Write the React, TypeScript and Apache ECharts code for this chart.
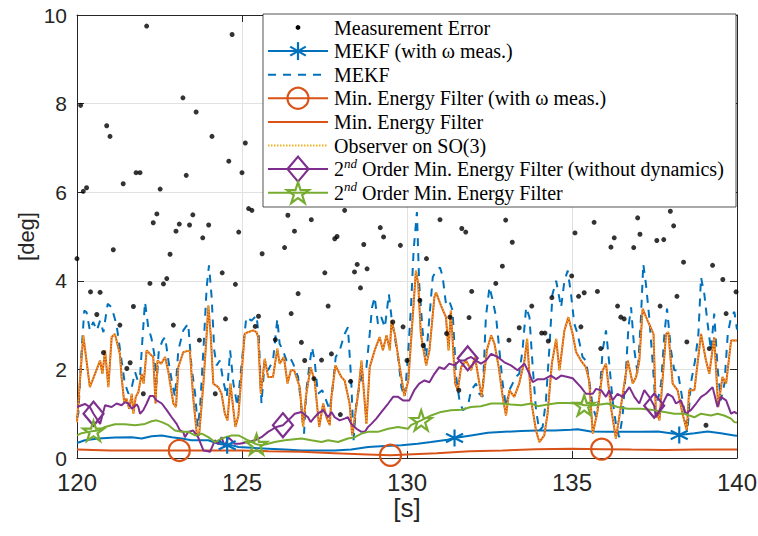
import React, { useEffect, useRef } from 'react';
import * as echarts from 'echarts';

// ---------- axes ----------
const X_MIN = 120;
const X_MAX = 140;
const X_INTERVAL = 5;
const Y_MIN = 0;
const Y_MAX = 10;
const Y_INTERVAL = 2;

// ---------- data: [time s, error deg] ----------
const measurementError: [number, number][] = [
  [120.0, 4.5], [120.11, 7.96], [120.19, 6.02], [120.29, 6.1], [120.41, 3.75], [120.6, 3.24], [120.7, 3.74],
  [120.8, 2.38], [120.9, 7.5], [121.0, 7.26], [121.1, 4.7], [121.3, 3.0], [121.4, 6.19], [121.51, 2.02],
  [121.61, 2.15], [121.71, 3.42], [121.79, 6.44], [121.91, 6.44], [122.01, 1.45], [122.11, 9.75], [122.21, 3.94],
  [122.31, 5.31], [122.42, 5.51], [122.52, 6.07], [122.62, 3.93], [122.72, 4.05], [122.82, 4.6], [122.92, 3.0],
  [123.0, 5.12], [123.1, 5.28], [123.21, 8.13], [123.31, 6.38], [123.41, 5.26], [123.51, 5.49], [123.61, 7.81],
  [123.71, 2.66], [123.81, 4.97], [123.99, 5.26], [124.09, 7.26], [124.19, 1.45], [124.4, 4.18], [124.5, 3.14],
  [124.6, 6.7], [124.7, 9.56], [124.8, 3.92], [124.9, 5.1],
  [125.0, 6.44], [125.1, 7.11], [125.2, 5.63], [125.3, 5.59], [125.4, 2.97], [125.5, 3.2], [125.61, 4.61],
  [126.01, 2.67], [126.29, 4.75], [126.39, 5.48], [126.49, 3.26], [126.59, 5.12], [126.7, 3.71], [126.8, 2.61],
  [126.9, 2.2], [127.1, 5.38], [127.18, 1.79], [127.41, 2.21], [127.51, 4.18], [127.61, 3.43], [127.71, 2.35],
  [127.81, 4.95], [127.88, 5.0], [127.98, 0.98], [128.11, 5.59], [128.29, 1.73], [128.41, 4.2], [128.49, 4.37],
  [128.59, 3.84], [128.69, 4.82], [128.79, 4.27], [129.19, 5.2], [129.29, 4.99], [129.57, 3.07], [129.8, 4.8],
  [129.88, 2.96], [130.0, 2.2],
  [130.39, 3.56], [130.49, 2.54], [130.59, 4.5], [131.0, 5.38], [131.2, 2.81], [131.3, 3.18], [131.57, 1.53],
  [131.66, 5.18], [131.78, 5.1], [131.88, 3.17], [131.96, 3.76], [132.69, 3.94], [132.89, 4.33], [132.99, 5.37],
  [133.09, 2.66], [133.19, 4.87], [133.4, 2.94], [133.78, 3.43], [134.08, 2.82], [134.18, 2.82], [134.28, 2.64],
  [134.39, 3.62], [134.99, 4.11], [135.09, 5.08], [135.2, 3.65], [135.27, 2.96],
  [135.37, 3.73], [135.67, 5.32], [135.77, 3.76], [135.87, 2.47], [136.18, 4.76], [136.28, 4.97], [136.38, 3.43],
  [136.48, 3.18], [136.58, 3.14], [136.87, 4.75], [136.99, 5.42], [137.06, 5.05], [137.57, 4.91], [137.67, 3.43],
  [137.78, 4.93], [137.98, 5.57], [138.08, 5.24], [138.18, 3.65], [138.38, 4.42], [138.48, 2.62], [139.06, 0.74],
  [139.16, 2.47], [139.26, 4.35], [139.57, 4.03], [139.67, 3.26], [139.97, 3.75],
];

const mekfWithOmega: [number, number][] = [
  [120.0, 0.34], [120.24, 0.4], [120.65, 0.44], [121.15, 0.46], [121.66, 0.47], [121.96, 0.44], [122.26, 0.49],
  [122.57, 0.51], [122.87, 0.47], [123.17, 0.44], [123.47, 0.4], [123.67, 0.4], [123.98, 0.4], [124.28, 0.32],
  [124.55, 0.29], [124.68, 0.29], [124.89, 0.25], [125.29, 0.23], [125.79, 0.21], [126.3, 0.19], [126.8, 0.17],
  [127.3, 0.17], [127.81, 0.17], [128.31, 0.19], [128.82, 0.25], [129.33, 0.27], [129.83, 0.29], [130.32, 0.32],
  [130.73, 0.36], [131.23, 0.41], [131.44, 0.45], [131.94, 0.51], [132.45, 0.57], [132.95, 0.59], [133.46, 0.61],
  [133.96, 0.62], [134.47, 0.62], [134.97, 0.64], [135.17, 0.65], [135.57, 0.6], [136.08, 0.59], [136.58, 0.59],
  [137.09, 0.59], [137.6, 0.6], [138.1, 0.55], [138.25, 0.52], [138.71, 0.56], [139.11, 0.6], [139.51, 0.56],
  [139.92, 0.51], [140.0, 0.5],
];
const mekfWithOmegaMarkers = [124.55, 131.44, 138.25];

const mekf: [number, number][] = [
  [120.0, 0.9], [120.04, 1.0], [120.14, 2.43], [120.22, 3.33], [120.29, 3.29], [120.39, 2.88], [120.49, 3.07],
  [120.6, 2.88], [120.7, 3.1], [120.8, 2.84], [120.93, 3.48], [121.05, 3.4], [121.2, 3.0], [121.35, 2.2],
  [121.45, 1.68], [121.56, 1.45], [121.66, 1.6], [121.76, 1.94], [121.84, 1.75], [121.91, 1.83], [121.98, 2.65],
  [122.06, 3.52], [122.16, 2.95], [122.26, 2.69], [122.34, 2.35], [122.41, 1.68], [122.48, 2.43], [122.59, 2.65],
  [122.67, 2.73], [122.77, 2.2], [122.87, 1.75], [122.97, 1.38], [123.07, 2.43], [123.22, 2.88], [123.37, 3.03],
  [123.47, 2.05], [123.58, 1.45], [123.66, 0.7], [123.73, 1.15], [123.83, 2.43], [123.93, 3.86], [124.0, 4.35],
  [124.08, 3.63], [124.16, 2.43], [124.23, 2.09], [124.33, 2.2], [124.43, 1.75], [124.54, 1.38], [124.64, 2.43],
  [124.74, 1.68], [124.86, 1.17], [125.03, 2.43], [125.13, 3.18], [125.29, 3.1], [125.44, 3.22], [125.51, 2.73],
  [125.59, 1.23], [125.69, 2.2], [125.79, 1.98], [125.94, 2.2], [126.07, 3.14], [126.14, 2.58], [126.24, 2.43],
  [126.35, 2.2], [126.45, 2.28], [126.55, 2.13], [126.7, 1.83], [126.8, 1.15], [126.88, 0.55], [126.95, 1.53],
  [127.05, 2.13], [127.12, 2.5], [127.2, 2.2], [127.3, 1.45], [127.43, 1.53], [127.51, 1.38], [127.66, 1.08],
  [127.76, 1.68], [127.84, 2.28], [127.96, 2.43], [128.11, 2.8], [128.21, 2.95], [128.31, 1.75], [128.38, 0.4],
  [128.47, 1.3], [128.62, 1.83], [128.77, 2.05], [128.87, 2.8], [128.94, 3.4], [129.02, 3.63], [129.12, 3.03],
  [129.22, 3.18], [129.33, 2.95], [129.45, 3.7], [129.53, 3.18], [129.63, 2.73], [129.73, 2.28], [129.83, 1.6],
  [129.93, 1.38], [130.02, 2.2], [130.12, 3.4], [130.2, 4.68], [130.3, 5.55], [130.37, 3.93], [130.48, 2.8],
  [130.58, 2.28], [130.68, 3.18], [130.78, 4.08], [130.88, 4.23], [131.0, 4.3], [131.08, 4.1], [131.18, 3.48],
  [131.28, 3.55], [131.38, 3.33], [131.49, 1.83], [131.59, 1.3], [131.69, 1.08], [131.84, 1.15], [131.94, 1.53],
  [132.09, 1.68], [132.19, 1.45], [132.29, 1.38], [132.39, 3.18], [132.5, 3.86], [132.6, 3.55], [132.7, 3.18],
  [132.8, 2.43], [132.9, 1.68], [133.0, 1.15], [133.1, 1.53], [133.2, 1.68], [133.3, 1.83], [133.4, 1.9],
  [133.5, 2.43], [133.61, 3.4], [133.71, 3.18], [133.81, 2.05], [133.91, 1.08], [134.01, 0.62], [134.11, 0.7],
  [134.21, 1.3], [134.31, 2.43], [134.41, 3.7], [134.52, 4.0], [134.67, 3.4], [134.77, 4.0], [134.87, 4.23],
  [134.97, 3.7], [135.07, 3.03], [135.17, 2.8], [135.32, 2.28], [135.42, 2.2], [135.52, 1.75], [135.63, 1.15],
  [135.73, 0.92], [135.83, 1.38], [135.93, 2.43], [136.03, 2.88], [136.13, 2.13], [136.23, 1.3], [136.33, 0.77],
  [136.43, 0.47], [136.53, 0.92], [136.64, 2.05], [136.71, 2.95], [136.79, 3.4], [136.89, 2.43], [136.99, 1.9],
  [137.09, 3.18], [137.16, 4.38], [137.24, 3.93], [137.34, 3.18], [137.44, 2.2], [137.51, 1.45], [137.6, 1.3],
  [137.7, 1.68], [137.8, 2.8], [137.88, 3.37], [138.0, 2.43], [138.1, 1.98], [138.2, 1.98], [138.3, 1.53],
  [138.4, 1.08], [138.5, 0.62], [138.6, 1.68], [138.73, 2.2], [138.83, 2.8], [138.91, 4.08], [139.01, 3.7],
  [139.11, 3.03], [139.21, 2.43], [139.31, 3.26], [139.41, 2.05], [139.51, 1.3], [139.62, 1.68], [139.72, 2.8],
  [139.82, 3.18], [139.92, 3.3], [140.0, 2.9],
];

const minEnergyWithOmega: [number, number][] = [
  [120.0, 0.19], [121.0, 0.17], [122.0, 0.17], [123.1, 0.17], [124.0, 0.17], [125.0, 0.17], [125.8, 0.15],
  [126.8, 0.14], [127.8, 0.11], [128.8, 0.08], [129.5, 0.06], [130.0, 0.08], [130.9, 0.11], [131.9, 0.15],
  [132.9, 0.17], [133.9, 0.2], [135.0, 0.21], [135.9, 0.2], [136.8, 0.19], [137.8, 0.18], [138.8, 0.19],
  [139.8, 0.19], [140.0, 0.19],
];
const minEnergyWithOmegaMarkers = [123.1, 129.5, 135.9];

const minEnergy: [number, number][] = [
  [120.0, 0.81], [120.19, 2.77], [120.39, 1.6], [120.7, 2.2], [120.77, 1.9], [120.85, 2.43], [120.95, 1.6],
  [121.05, 2.73], [121.15, 2.8], [121.3, 2.35], [121.35, 1.83], [121.43, 1.26], [121.5, 1.34], [121.58, 1.11],
  [121.66, 1.45], [121.71, 1.0], [121.78, 1.38], [121.86, 1.49], [121.96, 1.9], [122.02, 1.68], [122.11, 2.43],
  [122.21, 2.35], [122.31, 2.28], [122.38, 1.23], [122.44, 2.2], [122.55, 2.13], [122.67, 2.28], [122.77, 1.94],
  [122.92, 1.23], [123.0, 1.15], [123.07, 2.05], [123.22, 2.39], [123.42, 2.43], [123.52, 1.38], [123.63, 0.55],
  [123.7, 0.51], [123.83, 1.68], [123.93, 2.8], [123.98, 3.44], [124.05, 2.8], [124.13, 1.68], [124.28, 1.6],
  [124.38, 1.45], [124.48, 1.0], [124.56, 0.85], [124.65, 1.68], [124.74, 1.08], [124.8, 0.7], [124.89, 0.95],
  [125.08, 2.8], [125.18, 2.84], [125.34, 2.88], [125.44, 2.84], [125.49, 2.73], [125.57, 1.45], [125.69, 2.24],
  [125.79, 1.83], [125.94, 1.83], [126.07, 2.47], [126.14, 2.13], [126.27, 2.28], [126.38, 1.68], [126.48, 1.98],
  [126.58, 1.98], [126.75, 1.6], [126.85, 0.7], [126.95, 1.45], [127.08, 2.05], [127.2, 1.75], [127.34, 0.7],
  [127.46, 1.23], [127.56, 0.92], [127.66, 0.74], [127.71, 1.38], [127.83, 2.09], [128.01, 1.83], [128.11, 1.75],
  [128.26, 1.23], [128.34, 0.51], [128.52, 1.45], [128.62, 2.2], [128.77, 0.77], [128.87, 2.05], [129.02, 2.43],
  [129.17, 2.73], [129.27, 2.43], [129.38, 2.77], [129.48, 2.43], [129.53, 3.1], [129.63, 2.8], [129.78, 2.05],
  [129.92, 1.4], [130.04, 1.75], [130.27, 4.23], [130.34, 3.93], [130.42, 2.8], [130.58, 2.09], [130.68, 2.43],
  [130.83, 3.63], [130.88, 3.74], [131.03, 3.44], [131.18, 3.18], [131.26, 2.43], [131.33, 3.33], [131.46, 1.68],
  [131.54, 1.53], [131.64, 2.05], [131.79, 2.2], [131.94, 1.98], [132.06, 2.28], [132.16, 1.83], [132.26, 1.38],
  [132.42, 2.43], [132.55, 2.77], [132.65, 2.58], [132.78, 2.05], [132.9, 1.38], [133.0, 0.96], [133.1, 1.53],
  [133.25, 1.38], [133.4, 1.68], [133.56, 2.2], [133.64, 2.69], [133.76, 1.3], [133.91, 0.62], [134.01, 0.36],
  [134.16, 0.51], [134.26, 1.0], [134.39, 2.13], [134.52, 2.69], [134.62, 1.98], [134.77, 2.88], [134.89, 3.18],
  [135.02, 2.8], [135.12, 2.4], [135.27, 2.2], [135.42, 2.05], [135.52, 1.75], [135.63, 0.55], [135.78, 1.08],
  [135.93, 1.98], [136.03, 2.13], [136.18, 1.15], [136.33, 0.44], [136.48, 1.15], [136.69, 2.2], [136.84, 1.68],
  [136.94, 1.83], [137.04, 2.2], [137.14, 3.37], [137.29, 3.1], [137.47, 2.8], [137.54, 1.08], [137.65, 0.85],
  [137.85, 2.8], [137.92, 2.84], [138.05, 1.68], [138.2, 1.53], [138.35, 1.0], [138.48, 0.62], [138.55, 1.53],
  [138.71, 1.53], [138.91, 2.8], [139.06, 2.2], [139.16, 1.9], [139.31, 2.73], [139.43, 1.15], [139.56, 1.83],
  [139.67, 1.68], [139.82, 2.65], [140.0, 2.65],
];

// the SO(3) observer trace lies exactly on the min. energy filter trace in the picture
const observerSO3: [number, number][] = minEnergy;

const secondOrderNoDyn: [number, number][] = [
  [120.0, 1.15], [120.24, 1.22], [120.39, 1.15], [120.5, 1.0], [120.7, 0.77], [120.85, 1.19], [121.05, 1.15],
  [121.2, 1.23], [121.35, 1.19], [121.45, 1.26], [121.56, 1.23], [121.66, 1.11], [121.81, 1.21], [121.86, 1.15],
  [121.91, 1.0], [122.01, 1.08], [122.11, 1.23], [122.21, 1.4], [122.31, 1.4], [122.41, 1.3], [122.57, 1.23],
  [122.72, 1.08], [122.87, 0.92], [123.02, 0.77], [123.12, 0.62], [123.22, 0.59], [123.27, 0.47], [123.37, 0.59],
  [123.52, 0.62], [123.67, 0.47], [123.83, 0.17], [123.93, 0.16], [124.03, 0.14], [124.18, 0.4], [124.28, 0.32],
  [124.38, 0.47], [124.48, 0.25], [124.58, 0.47], [124.68, 0.4], [124.78, 0.32], [124.93, 0.32], [125.18, 0.36],
  [125.39, 0.4], [125.59, 0.47], [125.79, 0.59], [126.04, 0.7], [126.24, 0.74], [126.4, 0.85], [126.6, 1.0],
  [126.8, 1.04], [127.0, 0.92], [127.08, 0.81], [127.2, 0.92], [127.3, 1.0], [127.46, 1.08], [127.61, 0.92],
  [127.71, 1.04], [127.81, 0.92], [127.96, 0.85], [128.11, 0.89], [128.21, 0.92], [128.31, 0.77], [128.47, 0.66],
  [128.62, 0.59], [128.72, 0.59], [128.82, 0.7], [128.92, 0.77], [129.07, 0.89], [129.27, 1.08], [129.43, 1.23],
  [129.58, 1.38], [129.73, 1.38], [129.88, 1.3], [130.07, 1.3], [130.22, 1.53], [130.37, 1.68], [130.53, 1.75],
  [130.68, 1.71], [130.83, 1.9], [130.98, 2.05], [131.13, 2.01], [131.28, 2.13], [131.44, 2.09], [131.59, 2.2],
  [131.74, 2.2], [131.84, 2.25], [131.94, 2.28], [132.09, 2.2], [132.24, 2.13], [132.39, 2.2], [132.55, 2.35],
  [132.75, 2.28], [132.95, 2.16], [133.15, 2.09], [133.35, 1.98], [133.56, 2.13], [133.71, 1.9], [133.81, 1.71],
  [133.96, 1.78], [134.16, 1.78], [134.36, 1.86], [134.52, 1.78], [134.67, 1.86], [134.87, 1.83], [135.02, 1.8],
  [135.27, 1.6], [135.42, 1.45], [135.63, 1.45], [135.73, 1.56], [135.88, 1.53], [136.03, 1.38], [136.13, 1.53],
  [136.23, 1.3], [136.38, 1.45], [136.53, 1.38], [136.74, 1.6], [136.89, 1.38], [137.04, 1.23], [137.19, 1.53],
  [137.34, 1.38], [137.49, 1.18], [137.54, 0.92], [137.7, 1.15], [137.9, 1.45], [138.05, 1.38], [138.15, 1.23],
  [138.3, 1.3], [138.45, 1.0], [138.6, 1.08], [138.76, 1.23], [138.91, 1.38], [139.06, 1.45], [139.26, 1.6],
  [139.41, 1.15], [139.51, 1.38], [139.67, 1.3], [139.82, 1.0], [139.92, 1.04], [140.0, 1.0],
];
const secondOrderNoDynMarkers = [120.5, 126.24, 131.84, 137.49];

const secondOrder: [number, number][] = [
  [120.0, 0.51], [120.14, 0.56], [120.34, 0.59], [120.5, 0.61], [120.64, 0.62], [120.85, 0.7], [121.15, 0.76],
  [121.45, 0.76], [121.76, 0.74], [122.06, 0.77], [122.26, 0.83], [122.41, 0.85], [122.57, 0.81], [122.77, 0.74],
  [122.97, 0.62], [123.17, 0.59], [123.37, 0.59], [123.58, 0.51], [123.78, 0.55], [123.98, 0.47], [124.18, 0.36],
  [124.38, 0.44], [124.69, 0.51], [124.89, 0.51], [125.0, 0.47], [125.18, 0.4], [125.44, 0.31], [125.59, 0.29],
  [125.79, 0.32], [125.99, 0.36], [126.3, 0.4], [126.8, 0.44], [127.1, 0.4], [127.41, 0.36], [127.61, 0.4],
  [127.91, 0.36], [128.21, 0.44], [128.42, 0.47], [128.62, 0.55], [128.82, 0.59], [129.12, 0.59], [129.43, 0.66],
  [129.73, 0.7], [130.03, 0.66], [130.12, 0.74], [130.43, 0.85], [130.73, 0.96], [131.03, 1.04], [131.33, 1.08],
  [131.64, 1.09], [131.94, 1.15], [132.24, 1.17], [132.55, 1.23], [132.85, 1.23], [133.15, 1.21], [133.46, 1.19],
  [133.76, 1.23], [133.96, 1.17], [134.26, 1.21], [134.57, 1.24], [134.87, 1.24], [135.17, 1.23], [135.37, 1.19],
  [135.68, 1.19], [136.08, 1.23], [136.38, 1.15], [136.69, 1.11], [137.09, 1.11], [137.39, 1.09], [137.8, 1.04],
  [138.1, 1.0], [138.4, 1.0], [138.71, 0.92], [138.91, 1.0], [139.21, 0.96], [139.41, 1.0], [139.61, 0.96],
  [139.82, 0.89], [139.92, 0.81], [140.0, 0.8],
];
const secondOrderMarkers = [120.5, 125.44, 130.43, 135.37];

// ---------- style ----------
const BLUE = '#0072BD';
const RED = '#D95319';
const YELLOW = '#EDB120';
const PURPLE = '#7E2F8E';
const GREEN = '#77AC30';
const AXIS = '#262626';
const GRID = '#e1e1e1';
const SERIF = '"Liberation Serif", "Times New Roman", serif';
const SANS = '"Liberation Sans", Arial, Helvetica, sans-serif';

function starPoints(cx: number, cy: number, r: number): number[][] {
  const pts: number[][] = [];
  for (let i = 0; i < 10; i++) {
    const a = -Math.PI / 2 + (i * Math.PI) / 5;
    const rr = i % 2 === 0 ? r : r * 0.382;
    pts.push([cx + rr * Math.cos(a), cy + rr * Math.sin(a)]);
  }
  return pts;
}

const STAR_PATH =
  'path://' +
  starPoints(0, 0, 100)
    .map((p, i) => (i === 0 ? 'M' : 'L') + p[0].toFixed(2) + ',' + p[1].toFixed(2))
    .join('') +
  'Z';
const ASTERISK_PATH = 'path://M0,-10L0,10M-8.66,-5L8.66,5M-8.66,5L8.66,-5';

function isMarker(list: number[], t: number) {
  return list.some((m) => Math.abs(m - t) < 1e-6);
}

function lineSeries(
  name: string,
  data: [number, number][],
  color: string,
  type: any,
  width: number,
  marker?: string,
  markers?: number[],
  size?: number | number[],
) {
  return {
    name,
    type: 'line',
    data,
    silent: true,
    animation: false,
    showSymbol: !!marker,
    symbol: marker
      ? (val: number[]) => (isMarker(markers || [], val[0]) ? marker : 'none')
      : 'none',
    symbolSize: size || 0,
    lineStyle: { color, width, type },
    itemStyle: { color: 'rgba(0,0,0,0)', borderColor: color, borderWidth: 2.2 },
    emphasis: { disabled: true },
    z: 3,
  };
}

type LegendRow = {
  label: string;
  sup?: boolean;
  color?: string;
  dash?: number[];
  marker?: string;
  dot?: boolean;
};

const legendRows: LegendRow[] = [
  { label: 'Measurement Error', dot: true },
  { label: 'MEKF (with ω meas.)', color: BLUE, marker: 'asterisk' },
  { label: 'MEKF', color: BLUE, dash: [8, 7] },
  { label: 'Min. Energy Filter (with ω meas.)', color: RED, marker: 'circle' },
  { label: 'Min. Energy Filter', color: RED },
  { label: 'Observer on SO(3)', color: YELLOW, dash: [1.5, 1.5] },
  { label: ' Order Min. Energy Filter (without dynamics)', sup: true, color: PURPLE, marker: 'diamond' },
  { label: ' Order Min. Energy Filter', sup: true, color: GREEN, marker: 'star' },
];

function legendGraphics() {
  const els: any[] = [];
  const Z = 100;
  els.push({
    type: 'rect',
    shape: { x: 263, y: 14, width: 473, height: 193 },
    style: { fill: '#fff', stroke: AXIS, lineWidth: 0.8 },
    z: Z,
  });
  const x1 = 268;
  const x2 = 328;
  const cx = 298;
  const tx = 334;
  legendRows.forEach((row, i) => {
    const cy = 27.5 + i * 23.6;
    if (row.dot) {
      els.push({ type: 'circle', shape: { cx, cy, r: 2.4 }, style: { fill: '#000' }, z: Z + 1 });
    } else {
      els.push({
        type: 'line',
        shape: { x1, y1: cy, x2, y2: cy },
        style: { stroke: row.color, lineWidth: 2, lineDash: row.dash || null },
        z: Z + 1,
      });
      const ms = { fill: 'none', stroke: row.color, lineWidth: 2.2 };
      if (row.marker === 'circle') {
        els.push({ type: 'circle', shape: { cx, cy, r: 10.5 }, style: ms, z: Z + 2 });
      } else if (row.marker === 'diamond') {
        els.push({
          type: 'polygon',
          shape: { points: [[cx, cy - 12.5], [cx + 10.5, cy], [cx, cy + 12.5], [cx - 10.5, cy]] },
          style: ms,
          z: Z + 2,
        });
      } else if (row.marker === 'star') {
        els.push({ type: 'polygon', shape: { points: starPoints(cx, cy + 1, 11.5) }, style: ms, z: Z + 2 });
      } else if (row.marker === 'asterisk') {
        const r = 9;
        const dx = r * 0.866;
        const dy = r * 0.5;
        els.push({ type: 'line', shape: { x1: cx, y1: cy - r, x2: cx, y2: cy + r }, style: ms, z: Z + 2 });
        els.push({ type: 'line', shape: { x1: cx - dx, y1: cy - dy, x2: cx + dx, y2: cy + dy }, style: ms, z: Z + 2 });
        els.push({ type: 'line', shape: { x1: cx - dx, y1: cy + dy, x2: cx + dx, y2: cy - dy }, style: ms, z: Z + 2 });
      }
    }
    if (row.sup) {
      els.push({
        type: 'text',
        x: tx,
        y: cy,
        style: { text: '2', fill: '#000', fontSize: 20, fontFamily: SERIF, verticalAlign: 'middle', align: 'left' },
        z: Z + 2,
      });
      els.push({
        type: 'text',
        x: tx + 10,
        y: cy - 6,
        style: { text: 'nd', fill: '#000', fontSize: 13, fontFamily: SERIF, fontStyle: 'italic', verticalAlign: 'middle', align: 'left' },
        z: Z + 2,
      });
      els.push({
        type: 'text',
        x: tx + 23,
        y: cy,
        style: { text: row.label, fill: '#000', fontSize: 20, fontFamily: SERIF, verticalAlign: 'middle', align: 'left' },
        z: Z + 2,
      });
    } else {
      els.push({
        type: 'text',
        x: tx,
        y: cy,
        style: { text: row.label, fill: '#000', fontSize: 20, fontFamily: SERIF, verticalAlign: 'middle', align: 'left' },
        z: Z + 2,
      });
    }
  });
  return els;
}

function axisBase() {
  return {
    axisLine: { show: true, onZero: false, lineStyle: { color: AXIS, width: 1 } },
    axisTick: { show: true, inside: true, length: 7, lineStyle: { color: AXIS, width: 1 } },
  };
}

function buildOption() {
  return {
    animation: false,
    backgroundColor: '#fff',
    grid: { left: 77, right: 21, top: 15, bottom: 78, containLabel: false, outerBoundsMode: 'none' },
    xAxis: [
      {
        type: 'value',
        position: 'bottom',
        min: X_MIN,
        max: X_MAX,
        interval: X_INTERVAL,
        ...axisBase(),
        axisLabel: { show: true, color: AXIS, fontSize: 24, lineHeight: 18, fontFamily: SANS, margin: 15 },
        splitLine: { show: true, lineStyle: { color: GRID, width: 1 } },
        name: '[s]',
        nameLocation: 'middle',
        nameGap: 37,
        nameMoveOverlap: false,
        nameTextStyle: { color: AXIS, fontSize: 26, fontFamily: SANS },
      },
      {
        type: 'value',
        position: 'top',
        min: X_MIN,
        max: X_MAX,
        interval: X_INTERVAL,
        ...axisBase(),
        axisLabel: { show: false },
        splitLine: { show: false },
      },
    ],
    yAxis: [
      {
        type: 'value',
        position: 'left',
        min: Y_MIN,
        max: Y_MAX,
        interval: Y_INTERVAL,
        ...axisBase(),
        axisLabel: { show: true, color: AXIS, fontSize: 21, lineHeight: 16, fontFamily: SANS, margin: 10 },
        splitLine: { show: true, lineStyle: { color: GRID, width: 1 } },
        name: '[deg]',
        nameLocation: 'middle',
        nameGap: 40,
        nameMoveOverlap: false,
        nameTextStyle: { color: AXIS, fontSize: 22, fontFamily: SANS },
      },
      {
        type: 'value',
        position: 'right',
        min: Y_MIN,
        max: Y_MAX,
        interval: Y_INTERVAL,
        ...axisBase(),
        axisLabel: { show: false },
        splitLine: { show: false },
      },
    ],
    series: [
      {
        name: 'Measurement Error',
        type: 'scatter',
        data: measurementError,
        symbol: 'circle',
        symbolSize: 5,
        itemStyle: { color: '#000' },
        silent: true,
        z: 3,
      },
      lineSeries('MEKF (with ω meas.)', mekfWithOmega, BLUE, 'solid', 2, ASTERISK_PATH, mekfWithOmegaMarkers, 17),
      lineSeries('MEKF', mekf, BLUE, [8, 7], 2),
      lineSeries('Min. Energy Filter (with ω meas.)', minEnergyWithOmega, RED, 'solid', 2, 'circle', minEnergyWithOmegaMarkers, 21),
      lineSeries('Min. Energy Filter', minEnergy, RED, 'solid', 2),
      lineSeries('Observer on SO(3)', observerSO3, YELLOW, [1.5, 1.5], 1.5),
      lineSeries('2nd Order Min. Energy Filter (without dynamics)', secondOrderNoDyn, PURPLE, 'solid', 2, 'diamond', secondOrderNoDynMarkers, [20, 24]),
      lineSeries('2nd Order Min. Energy Filter', secondOrder, GREEN, 'solid', 2, STAR_PATH, secondOrderMarkers, [21, 20]),
    ],
    graphic: legendGraphics(),
  };
}

export default function App() {
  const ref = useRef<HTMLDivElement>(null);
  useEffect(() => {
    if (!ref.current) return;
    const chart = echarts.init(ref.current, undefined, { renderer: 'svg' });
    chart.setOption(buildOption() as any);
    return () => {
      chart.dispose();
    };
  }, []);
  return (
    <div
      ref={ref}
      style={{ position: 'fixed', left: 0, top: 0, width: 758, height: 536, background: '#fff' }}
    />
  );
}
